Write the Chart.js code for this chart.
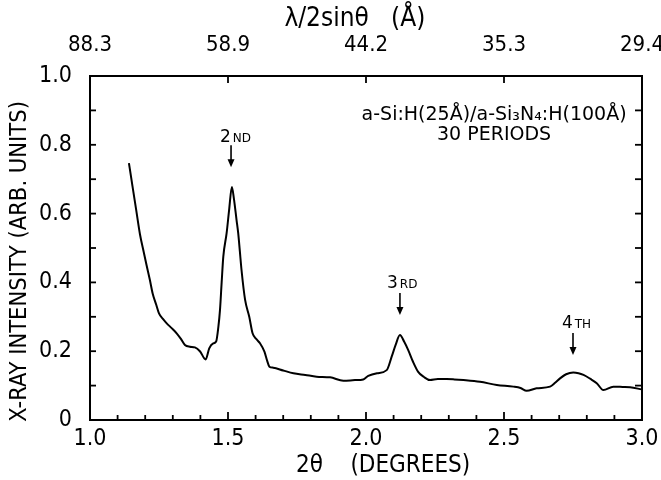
<!DOCTYPE html>
<html><head><meta charset="utf-8">
<script src="https://cdn.jsdelivr.net/npm/chart.js@4"></script>
<style>html,body{margin:0;padding:0;background:#fff}</style>
</head><body>
<canvas id="c" width="661" height="480"></canvas>
<script>
// ---- data ----
const twoTheta = [1.141,1.150,1.157,1.168,1.181,1.195,1.205,1.217,1.227,1.240,1.250,1.265,1.278,1.296,1.314,1.330,1.344,1.362,1.380,1.399,1.419,1.432,1.445,1.457,1.465,1.471,1.477,1.483,1.495,1.504,1.514,1.522,1.531,1.537,1.543,1.549,1.562,1.577,1.589,1.603,1.616,1.632,1.642,1.650,1.664,1.700,1.737,1.780,1.821,1.870,1.918,1.960,1.990,2.008,2.040,2.075,2.093,2.108,2.123,2.138,2.153,2.170,2.189,2.210,2.232,2.260,2.292,2.320,2.353,2.413,2.474,2.534,2.560,2.582,2.618,2.667,2.685,2.703,2.725,2.751,2.770,2.788,2.812,2.836,2.860,2.896,2.930,2.957,2.999];
const intensity = [0.747,0.700,0.664,0.607,0.540,0.487,0.450,0.407,0.368,0.335,0.310,0.293,0.281,0.267,0.252,0.235,0.218,0.213,0.211,0.199,0.176,0.208,0.222,0.228,0.270,0.320,0.400,0.475,0.543,0.610,0.677,0.640,0.581,0.543,0.490,0.436,0.349,0.300,0.252,0.235,0.223,0.199,0.172,0.155,0.152,0.144,0.136,0.131,0.126,0.124,0.114,0.116,0.118,0.128,0.136,0.145,0.184,0.220,0.247,0.228,0.203,0.170,0.140,0.125,0.116,0.119,0.119,0.118,0.116,0.111,0.102,0.097,0.093,0.085,0.092,0.097,0.108,0.121,0.133,0.138,0.136,0.131,0.120,0.107,0.087,0.097,0.096,0.095,0.089];
const bottomTickLabels = ['1.0','1.5','2.0','2.5','3.0'];
const topTickLabels = ['88.3','58.9','44.2','35.3','29.4'];
const yTickLabels = ['0','0.2','0.4','0.6','0.8','1.0'];
const peakLabels = [
  {big:'2', small:'ND', x:1.471, y:0.808, ax:1.511, ay1:0.799, ay2:0.735},
  {big:'3', small:'RD', x:2.076, y:0.384, ax:2.123, ay1:0.369, ay2:0.305},
  {big:'4', small:'TH', x:2.710, y:0.267, ax:2.750, ay1:0.253, ay2:0.189}
];
const sampleLines = [
  {text:'a-Si:H(25Å)/a-Si₃N₄:H(100Å)', x:2.464, y:0.872},
  {text:'30 PERIODS', x:2.464, y:0.814}
];

const NARROW = "'Liberation Sans Narrow', 'DejaVu Sans Condensed', 'Liberation Sans', sans-serif";
const FONT = "'DejaVu Sans', sans-serif";
Chart.defaults.font.family = NARROW;
Chart.defaults.color = '#000';

const noPad = s => { s.paddingLeft = 0; s.paddingRight = 0; };

const decor = {
  id: 'decor',
  afterDraw(chart) {
    const ctx = chart.ctx;
    const xs = chart.scales.x, ys = chart.scales.y;
    const L = chart.chartArea.left, R = chart.chartArea.right, T = chart.chartArea.top, B = chart.chartArea.bottom;
    ctx.save();
    ctx.strokeStyle = '#000';
    ctx.fillStyle = '#000';
    ctx.lineWidth = 1.8;
    for (let i = 1; i < 10; i++) {
      const py = ys.getPixelForValue(i / 10);
      ctx.beginPath(); ctx.moveTo(L, py); ctx.lineTo(L + 6, py); ctx.stroke();
      ctx.beginPath(); ctx.moveTo(R, py); ctx.lineTo(R - 7, py); ctx.stroke();
    }
    for (let i = 11; i < 30; i++) {
      const px = xs.getPixelForValue(i / 10);
      const len = (i % 5 === 0) ? 8 : 5;
      ctx.beginPath(); ctx.moveTo(px, B); ctx.lineTo(px, B - len); ctx.stroke();
    }
    for (let i = 1; i < 4; i++) {
      const px = xs.getPixelForValue(1 + i * 0.5);
      ctx.beginPath(); ctx.moveTo(px, T); ctx.lineTo(px, T + 7); ctx.stroke();
    }
    ctx.textBaseline = 'alphabetic';
    ctx.textAlign = 'left';
    peakLabels.forEach(p => {
      const px = xs.getPixelForValue(p.x), py = ys.getPixelForValue(p.y);
      ctx.font = '17px ' + FONT;
      ctx.fillText(p.big, px, py);
      const w = ctx.measureText(p.big).width;
      ctx.font = '12px ' + FONT;
      ctx.fillText(p.small, px + w + 2, py);
      const ax = xs.getPixelForValue(p.ax);
      const y1 = ys.getPixelForValue(p.ay1), y2 = ys.getPixelForValue(p.ay2);
      ctx.lineWidth = 1.6;
      ctx.beginPath(); ctx.moveTo(ax, y1); ctx.lineTo(ax, y2 - 6); ctx.stroke();
      ctx.beginPath(); ctx.moveTo(ax - 3.5, y2 - 8); ctx.lineTo(ax + 3.5, y2 - 8); ctx.lineTo(ax, y2); ctx.closePath(); ctx.fill();
    });
    ctx.textAlign = 'center';
    ctx.font = '19px ' + FONT;
    sampleLines.forEach(s => {
      ctx.fillText(s.text, xs.getPixelForValue(s.x), ys.getPixelForValue(s.y));
    });
    ctx.restore();
  }
};

new Chart(document.getElementById('c'), {
  type: 'line',
  data: {
    datasets: [{
      data: twoTheta.map((x, i) => ({x: x, y: intensity[i]})),
      borderColor: '#000',
      borderWidth: 2,
      pointRadius: 0,
      cubicInterpolationMode: 'monotone',
      fill: false
    }]
  },
  options: {
    responsive: false,
    animation: false,
    layout: {padding: 0},
    plugins: {legend: {display: false}, tooltip: {enabled: false}},
    scales: {
      x: {
        type: 'linear', position: 'bottom', min: 1, max: 3,
        grid: {display: false, drawTicks: false},
        border: {display: true, color: '#000', width: 2},
        ticks: {
          stepSize: 0.1, autoSkip: false, maxRotation: 0, padding: 5,
          font: {size: 23, lineHeight: 1.2},
          callback: v => { const r = Math.round(v * 10); return r % 5 === 0 ? bottomTickLabels[r / 5 - 2] : ''; }
        },
        title: {display: true, text: '     2θ    (DEGREES)', font: {size: 24, lineHeight: 1}, padding: {top: 0, bottom: 2}},
        afterFit: s => { s.height = 60; noPad(s); }
      },
      x2: {
        type: 'linear', axis: 'x', position: 'top', min: 1, max: 3,
        grid: {display: false, drawTicks: false},
        border: {display: true, color: '#000', width: 2},
        ticks: {
          stepSize: 0.5, autoSkip: false, maxRotation: 0, padding: 0,
          font: {size: 22, lineHeight: 2.8},
          callback: v => topTickLabels[Math.round((v - 1) * 2)]
        },
        title: {display: true, text: 'λ/2sinθ   (Å)   ', font: {size: 26, lineHeight: 1}, padding: {top: 6, bottom: 0}},
        afterFit: s => { s.height = 76; noPad(s); }
      },
      y: {
        type: 'linear', position: 'left', min: 0, max: 1,
        grid: {display: false, drawTicks: false},
        border: {display: true, color: '#000', width: 2},
        ticks: {
          stepSize: 0.1, autoSkip: false, padding: 18,
          font: {size: 23, lineHeight: 1.2},
          callback: v => { const r = Math.round(v * 10); return r % 2 === 0 ? yTickLabels[r / 2] : ''; }
        },
        title: {display: true, text: 'X-RAY INTENSITY (ARB. UNITS)    ', font: {size: 23.5, lineHeight: 1}, padding: {top: 8, bottom: 0}},
        afterFit: s => { s.width = 90; }
      },
      y2: {
        type: 'linear', axis: 'y', position: 'right', min: 0, max: 1,
        grid: {display: false, drawTicks: false},
        border: {display: true, color: '#000', width: 2},
        ticks: {display: false},
        afterFit: s => { s.width = 19; }
      }
    }
  },
  plugins: [decor]
});
</script>
</body></html>
